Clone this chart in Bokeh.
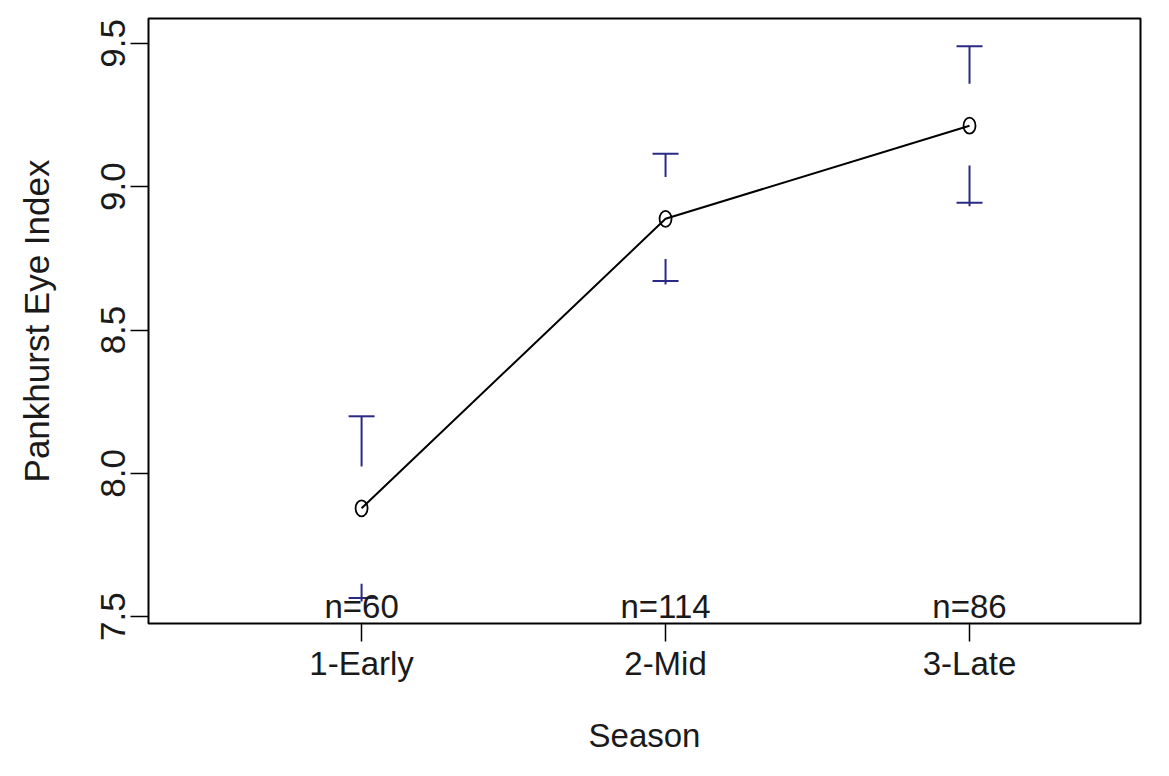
from bokeh.plotting import figure
from bokeh.models import FixedTicker, Range1d
from bokeh.core.properties import value
from bokeh.embed import file_html
from bokeh.resources import INLINE

categories = ["1-Early", "2-Mid", "3-Late"]
means = [7.878, 8.888, 9.213]
ci_upper = [8.199, 9.115, 9.490]
ci_lower = [7.565, 8.671, 8.944]
# where the visible lower bar stems begin
lower_stem_from = [7.615, 8.748, 9.074]
n_labels = ["n=60", "n=114", "n=86"]
y_ticks = [7.5, 8.0, 8.5, 9.0, 9.5]

FONT = "Liberation Sans"
FS_H = "33px"
FS_V = "35px"
BAR = "#2a2a84"
GAP_UP = 0.146  # gap above the mean (data units)

xs = [1, 2, 3]

p = figure(width=1153, height=760, output_backend="svg", toolbar_location=None,
           x_range=Range1d(0.299, 3.5625), y_range=Range1d(7.476, 9.587),
           min_border_left=148, min_border_right=13, min_border_top=18, min_border_bottom=137)

p.background_fill_color = "white"
p.border_fill_color = "white"
p.outline_line_color = "black"
p.outline_line_width = 2
p.xgrid.visible = False
p.ygrid.visible = False

# mean line
p.line(xs, means, line_color="black", line_width=2)

# error bars (stems with a gap around the mean, plus caps)
up_start = [m + GAP_UP for m in means]
lo_end = [lo - 0.012 for lo in ci_lower]
p.segment(x0=xs, y0=up_start, x1=xs, y1=ci_upper, line_color=BAR, line_width=2)
p.segment(x0=xs, y0=lower_stem_from, x1=xs, y1=lo_end, line_color=BAR, line_width=2)
p.scatter(xs, ci_upper, marker="dash", size=26, line_color=BAR, line_width=2)
p.scatter(xs, ci_lower, marker="dash", size=26, line_color=BAR, line_width=2)

# mean markers
p.ellipse(x=xs, y=means, width=12, height=16, width_units="screen", height_units="screen",
          fill_alpha=0.0, line_color="black", line_width=1.8)

# group sizes along the bottom
p.text(x=xs, y=[7.535] * 3, text=n_labels, text_align="center", text_baseline="alphabetic",
       text_font=value(FONT), text_font_size=FS_H, text_color="#1a1a1a")

# axes
p.xaxis.ticker = FixedTicker(ticks=xs)
p.xaxis.major_label_overrides = {i + 1: c for i, c in enumerate(categories)}
p.yaxis.ticker = FixedTicker(ticks=y_ticks)
p.yaxis.major_label_overrides = {t: f"{t:.1f}" for t in y_ticks}
p.yaxis.major_label_orientation = "vertical"

for ax, fs in ((p.xaxis[0], FS_H), (p.yaxis[0], FS_V)):
    ax.axis_line_color = None
    ax.major_tick_line_color = "black"
    ax.major_tick_line_width = 1.5
    ax.major_tick_in = 0
    ax.major_tick_out = 18
    ax.minor_tick_line_color = None
    ax.major_label_text_font = FONT
    ax.major_label_text_font_size = fs
    ax.major_label_text_color = "#1a1a1a"
    ax.axis_label_text_font = FONT
    ax.axis_label_text_font_size = fs
    ax.axis_label_text_font_style = "normal"
    ax.axis_label_text_color = "#1a1a1a"

p.xaxis.axis_label = "Season"
p.yaxis.axis_label = "Pankhurst Eye Index"
p.xaxis.major_label_standoff = 3
p.xaxis.axis_label_standoff = 32
p.yaxis.major_label_standoff = 5
p.yaxis.axis_label_standoff = 43

open("out.html", "w").write(file_html(p, INLINE))
